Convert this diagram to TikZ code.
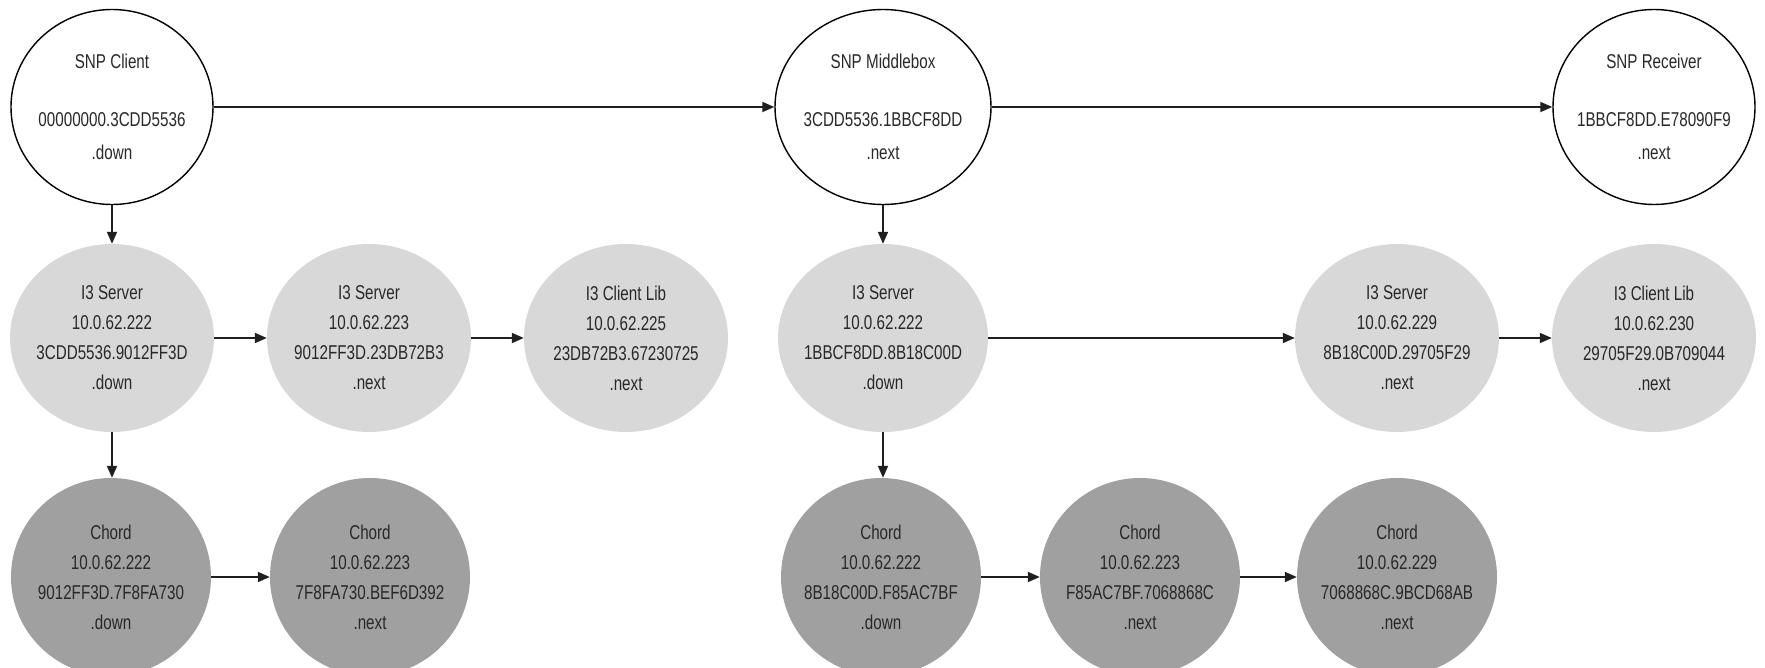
\documentclass[tikz,border=0pt]{standalone}
\usepackage{fontspec}
\setmainfont{Liberation Sans}[FakeStretch=0.76]
\usetikzlibrary{arrows.meta,shapes.geometric}
\definecolor{serverfill}{RGB}{216,216,216}
\definecolor{chordfill}{RGB}{160,160,160}
\definecolor{inktext}{RGB}{40,40,40}
\begin{document}
\begin{tikzpicture}[x=1pt,y=-1pt,
  txt/.style={font=\fontsize{20}{30}\selectfont, align=center, text=inktext, inner sep=0pt},
  ttl/.style={font=\fontsize{20}{33}\selectfont, align=center, text=inktext, inner sep=0pt},
  snp/.style={ellipse, draw=black, line width=1.4pt, fill=white, inner sep=0pt,
              minimum width=202pt, minimum height=195pt},
  i3node/.style={ellipse, fill=serverfill, inner sep=0pt,
              minimum width=204pt, minimum height=188pt},
  chordnode/.style={ellipse, fill=chordfill, inner sep=0pt,
              minimum width=200pt, minimum height=198pt},
  link/.style={draw=black!88, line width=1.8pt, -{Triangle[length=12pt,width=10pt]}}
]
\useasboundingbox (0,0) rectangle (1765,668);

% top row: SNP end points
\node[snp, label={[ttl]center:SNP Client\\[25pt]00000000.3CDD5536\\.down}] (cli) at (112,107) {};
\node[snp, minimum width=216pt, label={[ttl]center:SNP Middlebox\\[25pt]3CDD5536.1BBCF8DD\\.next}] (mid) at (883,107) {};
\node[snp, label={[ttl]center:SNP Receiver\\[25pt]1BBCF8DD.E78090F9\\.next}] (rcv) at (1654,107) {};

% middle row: i3 layer
\node[i3node, label={[txt]center:I3 Server\\10.0.62.222\\3CDD5536.9012FF3D\\.down}] (s1) at (112,338) {};
\node[i3node, label={[txt]center:I3 Server\\10.0.62.223\\9012FF3D.23DB72B3\\.next}] (s2) at (369,338) {};
\node[i3node, label={[txt]center:I3 Client Lib\\10.0.62.225\\23DB72B3.67230725\\.next}] (s3) at (626,338) {};
\node[i3node, minimum width=210pt, label={[txt]center:I3 Server\\10.0.62.222\\1BBCF8DD.8B18C00D\\.down}] (s4) at (883,338) {};
\node[i3node, label={[txt]center:I3 Server\\10.0.62.229\\8B18C00D.29705F29\\.next}] (s5) at (1397,338) {};
\node[i3node, label={[txt]center:I3 Client Lib\\10.0.62.230\\29705F29.0B709044\\.next}] (s6) at (1654,338) {};

% bottom row: Chord layer
\node[chordnode, label={[txt]center:Chord\\10.0.62.222\\9012FF3D.7F8FA730\\.down}] (c1) at (111,577) {};
\node[chordnode, label={[txt]center:Chord\\10.0.62.223\\7F8FA730.BEF6D392\\.next}] (c2) at (370,577) {};
\node[chordnode, label={[txt]center:Chord\\10.0.62.222\\8B18C00D.F85AC7BF\\.down}] (c4) at (881,577) {};
\node[chordnode, label={[txt]center:Chord\\10.0.62.223\\F85AC7BF.7068868C\\.next}] (c5) at (1140,577) {};
\node[chordnode, label={[txt]center:Chord\\10.0.62.229\\7068868C.9BCD68AB\\.next}] (c6) at (1397,577) {};

% connectors
\draw[link] (cli) -- (mid);
\draw[link] (mid) -- (rcv);
\draw[link] (cli) -- (s1);
\draw[link] (mid) -- (s4);
\draw[link] (s1) -- (s2);
\draw[link] (s2) -- (s3);
\draw[link] (s4) -- (s5);
\draw[link] (s5) -- (s6);
\draw[link] (s1.south) -- (s1.south |- c1.north);
\draw[link] (s4.south) -- (s4.south |- c4.north);
\draw[link] (c1) -- (c2);
\draw[link] (c4) -- (c5);
\draw[link] (c5) -- (c6);
\end{tikzpicture}
\end{document}
